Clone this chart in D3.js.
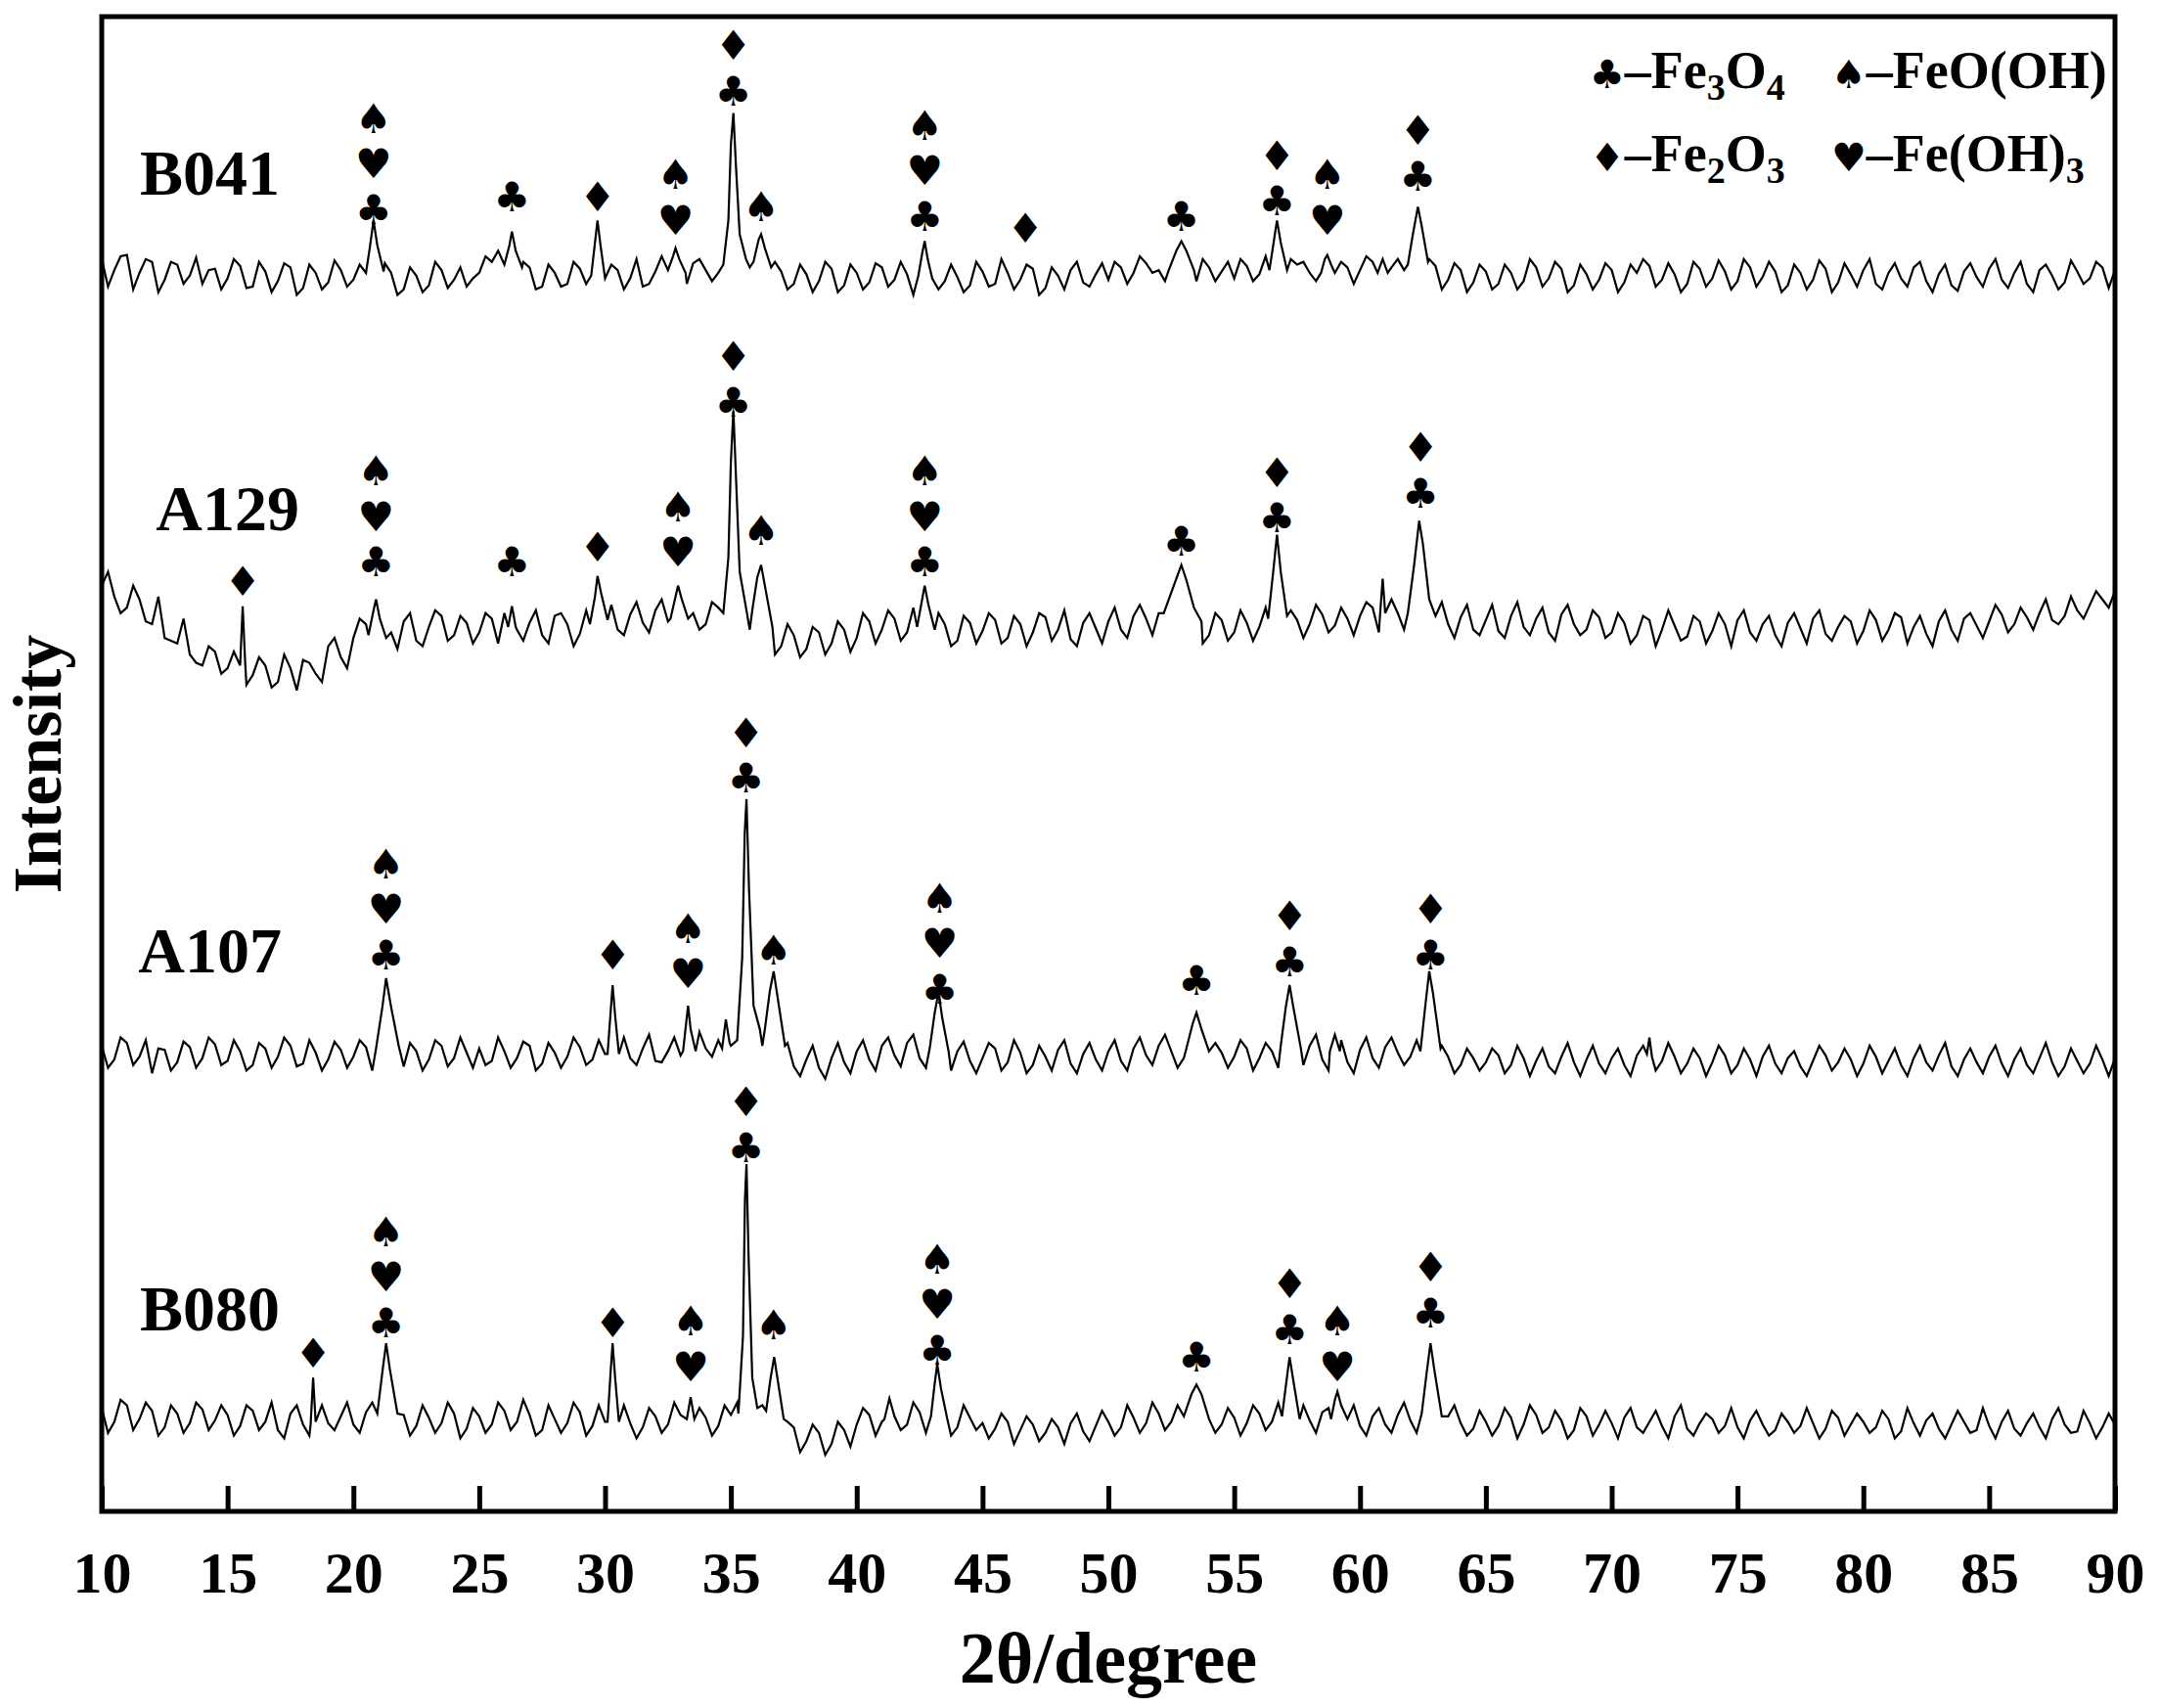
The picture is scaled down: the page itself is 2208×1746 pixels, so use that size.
<!DOCTYPE html>
<html><head><meta charset="utf-8">
<script src="https://cdn.jsdelivr.net/npm/d3@7"></script>
<style>body{margin:0;background:#fff}</style></head>
<body><svg id="c" width="2208" height="1746"></svg>
<script>
const xTicks=[10,15,20,25,30,35,40,45,50,55,60,65,70,75,80,85,90];
const seriesNames=["B041","A129","A107","B080"];
const seriesOffsets=[897,642,332,67];
const labelPos=[[14.3,972],[15.0,728],[14.3,407],[14.3,147]];
const base_B041=[12,4,15,2,10,-3,8,0,-6,5,-2,7,-8,3,-4,6,-9,2,-5,4,-3,6,-6,2,-10,0,-7,4,-3,-8,2,10,14,-4,6,-8,2,-6,5,-3,-6,4,-2,-8,3,6,-2,9,4,2,8,12,4,-2,3,-6,1,-4,5,-7,2,-5,6,-3,1,-8,4,-4,-1,-7,3,-6,2,-3,5,-9,0,4,-5,1,-3,6,2,9,4,-2,5,-4,6,3,-2,7,1,10,4,8,2,9,-1,6,4,10,8,12,5,2,7,-3,4,-5,3,-6,2,-4,6,-2,5,-7,1,-3,4,-5,2,7,-3,1,-6,5,-2,3,-4,6,-1,3,-7,2,-3,5,-5,1,4,-6,2,-2,6,-4,1,-7,3,-1,5,-3,2,-6,4,0,-5,3,-2,6,4];
const base_A129=[30,22,14,20,2,-8,-12,-20,-28,-18,-30,-20,-35,-28,-40,-30,-24,-34,-14,-22,-8,2,-12,-4,4,-10,0,8,-6,3,-4,6,10,-2,3,-6,8,2,-5,4,6,-2,9,3,12,4,-3,10,2,14,6,10,0,-8,-14,-6,-16,-4,-12,-2,-8,4,-2,6,-4,8,-6,2,-10,3,-3,5,-8,2,-4,7,-2,-9,3,-1,4,-2,8,6,10,4,-3,2,-6,5,-4,3,0,8,-2,5,2,9,1,6,8,14,4,10,12,6,9,2,7,-2,5,-3,8,0,6,-4,9,2,-2,7,-4,3,-6,5,-2,1,-7,4,-3,2,5,-4,2,-6,3,-1,6,-5,0,4,-3,5,-2,7,0,-5,4,-2,6,1,4,9,2,7,10,5,8,12,16,20,26];
const base_A107=[6,-4,8,-2,-14,3,-6,5,-3,7,-5,2,-8,4,-2,6,-7,1,-4,3,-2,5,-6,3,-9,2,-4,6,-3,1,4,-5,2,-3,6,-7,1,-2,5,-4,0,6,-3,4,-5,2,-1,8,4,10,6,2,-3,-6,-2,-9,-4,-10,-3,-6,2,-4,6,-1,8,-3,3,-6,2,-5,-3,4,-6,1,-8,-2,3,-7,0,-4,2,-5,4,-1,6,2,-3,5,-4,1,-2,4,-3,2,-5,3,6,-4,2,-6,3,-3,5,1,-2,4,-6,-2,-8,-3,-6,-1,-8,-3,-5,-9,-2,-6,-4,-7,-3,-8,-1,4,-5,-2,-7,-3,-6,-1,-8,-4,-2,-7,-3,-9,-5,-1,-6,-4,-7,-2,-5,-8,-3,-6,-1,-9,-4,-6,-2,-7,-4,-8,-3,-6,-9,-5,-7,-4,-3];
const base_B080=[8,-2,10,0,6,-6,4,-3,7,-1,3,-5,6,-2,-8,4,-4,5,-3,2,-4,5,-2,-6,3,-5,1,-3,4,-7,2,-4,6,-2,3,-8,0,-3,5,-5,-2,4,-3,-6,2,-4,3,-8,1,-5,3,6,-2,-8,-14,-6,-16,-10,-18,-8,-4,3,-2,6,-4,5,-3,2,-6,1,-3,-7,-2,-8,-4,-10,-6,-3,-9,-5,-2,-6,1,-3,4,-2,3,-5,2,-4,1,-3,4,-2,-6,3,-1,5,-3,-2,-5,2,-4,3,-1,4,-6,2,-3,-7,-2,-5,1,-4,3,-6,-1,-8,2,-4,-3,1,-6,-2,-5,2,-7,-3,0,-5,-6,-1,-4,-8,-2,-5,-3,-7,1,-4,-2,-6,0,-9,-3,-1,-7,-4,-2,-8,-5,-2,-7,-3,-6,0,-4,-9,-3,-6,-4];
const mid_B041=[-8,14,-10,12,-12,10,-6,13,4,-10,12,-9,10,-12,9,-14,8,-10,11,-8,8,-12,9,-14,6,-12,10,-9,6,-2,14,18,-2,10,-10,8,-8,10,-6,9,8,-10,12,-6,14,2,-6,12,-4,16,20,6,-6,10,-10,8,-12,10,-12,8,-10,9,-8,10,-14,7,-10,8,-12,10,-8,12,-10,8,-14,6,-10,10,-8,9,10,-6,14,2,-4,11,-10,12,-4,10,12,-4,14,2,12,10,-4,8,10,-6,14,16,6,4,-4,12,-10,9,-12,8,-10,8,-10,12,-8,10,-12,8,-10,9,-12,8,12,-8,9,-12,10,-8,11,-10,12,-8,10,-12,8,-10,11,-12,9,-8,12,-10,9,-8,10,-12,8,-11,9,-8,12,-9,10,-12,8,-10,11,-6,10,-9];
const mid_A129=[40,10,30,4,22,-10,6,-26,-14,-34,-18,-42,-22,-44,-20,-46,-26,-40,-8,-30,6,-14,8,-16,10,-14,12,-10,8,-12,10,-12,14,-10,12,-12,10,-14,12,-8,16,-6,18,-4,20,-6,14,-2,18,0,14,-2,8,-20,2,-22,0,-20,4,-18,10,-12,12,-10,14,-8,10,-14,8,-12,10,-12,8,-14,10,-10,12,-14,10,-12,14,-8,16,-6,18,-4,12,-12,10,-10,12,-10,14,-6,12,-8,16,-4,14,-6,18,-4,20,-2,16,-6,18,-8,16,-6,16,-8,18,-6,14,-10,16,-6,12,-8,10,-12,8,-14,12,-10,8,-12,10,-14,12,-10,8,-14,10,-12,12,-10,8,-12,12,-10,10,-12,8,-14,12,-10,10,-8,16,-4,14,-2,20,2,22,6,26,14];
const mid_A107=[-10,12,-8,10,4,-12,9,-10,12,-8,10,-12,8,-10,12,-9,10,-12,9,-10,10,-12,9,-10,8,-12,10,-9,12,-10,-8,12,-10,9,-12,8,-10,12,-8,10,-10,12,-8,14,-6,12,-8,16,-2,18,12,-8,6,-14,8,-16,6,-18,8,-14,10,-12,12,-9,14,-10,10,-12,9,-14,8,-12,10,-14,6,-12,10,-14,8,-12,10,-12,12,-8,14,-10,10,-12,8,-10,10,-12,8,-10,12,-8,14,-12,10,-14,12,-10,12,-8,10,-12,6,-14,4,-12,4,-14,6,-16,4,-14,8,-16,6,-14,4,-16,6,-12,8,-14,4,-16,6,-14,4,-16,6,-14,2,-16,6,-12,4,-16,6,-14,4,-16,6,-12,8,-16,4,-14,6,-16,4,-14,8,-16,4,-14,6,-16];
const mid_B080=[-10,14,-8,12,-12,10,-10,12,-8,10,-12,10,-8,12,-14,10,-12,10,-8,12,-10,12,-12,8,-12,10,-10,12,-14,8,-10,12,-8,14,-12,10,-10,12,-12,10,-12,10,-14,8,-10,12,-14,8,-12,10,12,-6,10,-20,-2,-24,-4,-26,-2,-20,8,-12,10,-8,12,-10,8,-12,10,-8,-14,4,-18,2,-16,0,-18,4,-16,6,-12,10,-10,12,-8,10,-12,10,-10,8,-12,10,-8,12,-14,10,-10,8,-12,10,-12,8,-10,12,-10,8,-14,10,-12,6,-12,8,-14,10,-10,6,-14,8,-12,6,-14,8,-10,6,-14,10,-12,4,-10,8,-14,6,-12,4,-10,8,-14,6,-12,4,-10,6,-14,8,-12,4,-14,6,-10,8,-14,6,-12,4,-14,8,-10,6,-14,4];
const peaks_B041=[[[20.5,2],[20.65,20],[20.8,40],[20.95,22],[21.2,3]],[[26.0,8],[26.2,22],[26.3,32],[26.45,18],[26.7,6]],[[29.45,0],[29.6,24],[29.7,40],[29.82,22],[30.0,-2]],[[32.5,4],[32.7,14],[32.8,20],[32.95,12],[33.2,2]],[[34.7,8],[34.9,40],[35.0,95],[35.1,118],[35.2,80],[35.35,30],[35.6,12]],[[35.9,10],[36.1,26],[36.2,30],[36.35,20],[36.6,6]],[[42.45,0],[42.6,16],[42.7,25],[42.82,12],[43.0,-2]],[[52.4,4],[52.7,18],[52.9,25],[53.1,18],[53.4,4]],[[56.4,4],[56.55,22],[56.7,40],[56.85,24],[57.1,4]],[[58.45,2],[58.6,12],[58.7,15],[58.85,8],[59.0,2]],[[60.7,2],[60.9,12],[61.1,2]],[[61.9,8],[62.1,30],[62.3,50],[62.45,36],[62.7,10]]];
const peaks_A129=[[[15.5,-28],[15.6,15],[15.7,-26]],[[20.6,-6],[20.8,12],[20.9,20],[21.05,6],[21.3,-8]],[[26.15,0],[26.3,15],[26.45,0]],[[29.4,2],[29.6,22],[29.7,37],[29.85,24],[30.1,5]],[[32.6,6],[32.8,22],[32.9,30],[33.05,20],[33.3,6]],[[34.7,10],[34.9,50],[35.0,120],[35.1,157],[35.2,110],[35.35,40],[35.6,14]],[[35.85,12],[36.05,36],[36.2,45],[36.35,30],[36.65,0]],[[42.4,0],[42.6,20],[42.7,30],[42.85,16],[43.1,-2]],[[52.2,10],[52.6,30],[52.9,45],[53.1,34],[53.4,14],[53.7,4]],[[56.35,6],[56.55,40],[56.7,67],[56.85,40],[57.1,8]],[[60.8,10],[60.9,35],[61.0,10]],[[61.9,10],[62.15,45],[62.35,77],[62.5,60],[62.75,20],[63.0,8]]];
const peaks_A107=[[[20.9,4],[21.15,34],[21.3,55],[21.5,34],[21.8,6]],[[30.1,0],[30.22,30],[30.3,50],[30.4,28],[30.55,0]],[[33.1,2],[33.22,22],[33.3,35],[33.4,18],[33.6,2]],[[34.65,4],[34.8,25],[34.95,8]],[[35.25,10],[35.45,70],[35.55,160],[35.62,185],[35.72,120],[35.9,35],[36.15,18]],[[36.35,18],[36.55,46],[36.7,60],[36.85,42],[37.15,6]],[[42.9,4],[43.1,30],[43.25,45],[43.4,26],[43.65,2]],[[53.1,4],[53.35,22],[53.5,30],[53.7,18],[54.0,2]],[[56.85,6],[57.05,34],[57.2,50],[57.35,34],[57.65,4]],[[58.8,2],[59.0,14],[59.2,2]],[[62.4,2],[62.6,36],[62.75,60],[62.9,44],[63.2,4]],[[71.4,0],[71.5,12],[71.6,-2]]];
const peaks_B080=[[[18.3,-4],[18.4,30],[18.5,-2]],[[20.95,4],[21.15,34],[21.3,55],[21.45,36],[21.75,4]],[[30.1,-2],[30.22,34],[30.3,55],[30.4,30],[30.55,-2]],[[33.25,0],[33.4,16],[33.55,0]],[[35.3,4],[35.48,60],[35.56,160],[35.62,185],[35.7,120],[35.85,30],[36.05,8]],[[36.4,6],[36.58,30],[36.72,45],[36.88,26],[37.1,0]],[[41.1,0],[41.3,15],[41.5,2]],[[42.95,2],[43.1,26],[43.2,40],[43.35,22],[43.6,0]],[[53.0,2],[53.3,18],[53.5,25],[53.7,18],[54.0,0]],[[56.9,2],[57.08,28],[57.2,45],[57.35,28],[57.6,0]],[[58.85,0],[59.0,14],[59.1,20],[59.25,10],[59.5,0]],[[62.45,4],[62.65,34],[62.8,55],[62.95,36],[63.25,2]]];
const marks_B041=[[20.8,945,"CHS"],[26.3,954,"C"],[29.7,954,"D"],[32.8,937,"HS"],[35.1,1031,"CD"],[36.2,947,"S"],[42.7,940,"CHS"],[46.7,931,"D"],[52.9,940,"C"],[56.7,951,"CD"],[58.7,937,"HS"],[62.3,969,"CD"]];
const marks_A129=[[15.6,675,"D"],[20.9,689,"CHS"],[26.3,689,"C"],[29.7,700,"D"],[32.9,696,"HS"],[35.1,805,"CD"],[36.2,712,"S"],[42.7,689,"CHS"],[52.9,704,"C"],[56.7,721,"CD"],[62.4,739,"CD"]];
const marks_A107=[[21.3,404,"CHS"],[30.3,404,"D"],[33.3,390,"HS"],[35.6,532,"CD"],[36.7,407,"S"],[43.3,379,"CHS"],[53.5,385,"C"],[57.2,399,"CD"],[62.8,404,"CD"]];
const marks_B080=[[18.4,115,"D"],[21.3,137,"CHS"],[30.3,137,"D"],[33.4,105,"HS"],[35.6,264,"CD"],[36.7,135,"S"],[43.2,117,"CHS"],[53.5,112,"C"],[57.2,132,"CD"],[59.1,105,"HS"],[62.8,144,"CD"]];
const bases=[base_B041,base_A129,base_A107,base_B080];
const mids=[mid_B041,mid_A129,mid_A107,mid_B080];
const peaks=[peaks_B041,peaks_A129,peaks_A107,peaks_B080];
const marks=[marks_B041,marks_A129,marks_A107,marks_B080];
const glyph={C:"\u2663",S:"\u2660",D:"\u2666",H:"\u2665"};

const L=104,R=2162,T=17,B=1545;
const svg=d3.select("#c");
const x=d3.scaleLinear().domain([10,90]).range([L,R]);
const y=d3.scaleLinear().domain([0,1085]).range([B,T]);
const serif="'Liberation Serif','Times New Roman',serif";
const line=d3.line().x(d=>x(d[0])).y(d=>y(d[1]));

bases.forEach((b,si)=>{
  const pk=peaks[si];
  let pts=b.map((v,i)=>[10+i*0.5,v]).concat(mids[si].map((v,i)=>[10.25+i*0.5,v]));
  pts=pts.filter(p=>!pk.some(g=>p[0]>=g[0][0]&&p[0]<=g[g.length-1][0]));
  pk.forEach(g=>g.forEach(p=>pts.push(p)));
  pts.sort((a,c)=>a[0]-c[0]);
  const off=seriesOffsets[si];
  svg.append("path").attr("d",line(pts.map(p=>[p[0],p[1]+off]))).attr("fill","none").attr("stroke","#000").attr("stroke-width",2.2);
  svg.append("text").attr("x",x(labelPos[si][0])).attr("y",y(labelPos[si][1])).attr("text-anchor","middle").attr("dominant-baseline","central")
    .attr("font-family",serif).attr("font-weight","bold").attr("font-size",66).text(seriesNames[si]);
  marks[si].forEach(m=>{
    [...m[2]].forEach((s,k)=>{
      svg.append("text").attr("x",x(m[0])).attr("y",y(m[1]+k*33)).attr("text-anchor","middle").attr("dominant-baseline","central")
        .attr("font-family","'DejaVu Sans'").attr("font-size",42).text(glyph[s]);
    });
  });
});

const ax=svg.append("g").attr("transform",`translate(0,${B})`).call(d3.axisBottom(x).tickValues(xTicks).tickSize(-26).tickPadding(40).tickFormat(d3.format("d")));
ax.select(".domain").remove();
ax.selectAll("line").attr("stroke-width",5);
ax.selectAll("text").attr("font-family",serif).attr("font-weight","bold").attr("font-size",60);
svg.append("rect").attr("x",L).attr("y",T).attr("width",R-L).attr("height",B-T).attr("fill","none").attr("stroke","#000").attr("stroke-width",5);

svg.append("text").attr("x",(L+R)/2).attr("y",1720).attr("text-anchor","middle").attr("font-family",serif).attr("font-weight","bold").attr("font-size",74).text("2θ/degree");
svg.append("text").attr("transform",`translate(62,${(T+B)/2}) rotate(-90)`).attr("text-anchor","middle").attr("font-family",serif).attr("font-weight","bold").attr("font-size",70).text("Intensity");

const leg=[[1625,90,"C","Fe","3","O","4"],[1872,90,"S","FeO(OH)","","",""],[1625,175,"D","Fe","2","O","3"],[1872,175,"H","Fe(OH)","3","",""]];
leg.forEach(l=>{
  const t=svg.append("text").attr("x",l[0]).attr("y",l[1]).attr("font-family",serif).attr("font-weight","bold").attr("font-size",54);
  t.append("tspan").attr("font-family","'DejaVu Sans'").attr("font-weight","normal").attr("font-size",40).text(glyph[l[2]]);
  t.append("tspan").text("\u2013"+l[3]);
  if(l[4]) t.append("tspan").attr("font-size",38).attr("dy",12).text(l[4]);
  if(l[5]) t.append("tspan").attr("dy",-12).text(l[5]);
  if(l[6]) t.append("tspan").attr("font-size",38).attr("dy",12).text(l[6]);
});
</script></body></html>
